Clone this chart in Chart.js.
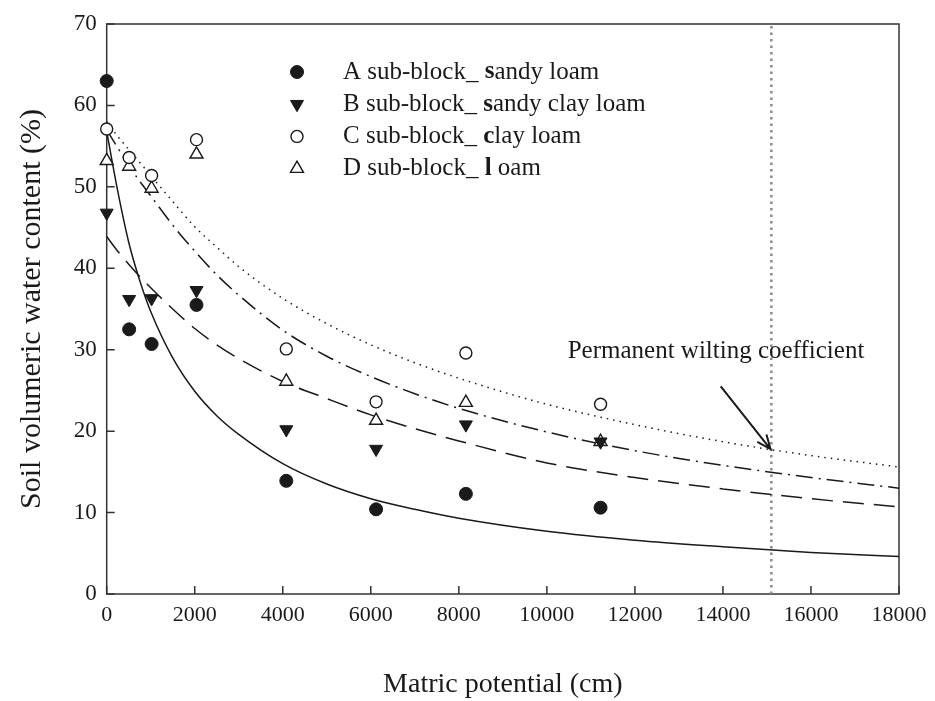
<!DOCTYPE html>
<html>
<head>
<meta charset="utf-8">
<script src="https://cdn.jsdelivr.net/npm/chart.js"></script>
<style>
  html, body { margin: 0; padding: 0; background: #fff; }
  canvas { display: block; }
</style>
</head>
<body>
<canvas id="chart" width="935" height="701"></canvas>
<script>
// measured points: matric potential (cm) and water content (%)
var potential = [0, 510, 1020, 2040, 4080, 6120, 8160, 11220];
var blockA = [63.0, 32.5, 30.7, 35.5, 13.9, 10.4, 12.3, 10.6];
var blockB = [46.8, 36.2, 36.3, 37.3, 20.2, 17.8, 20.8, 18.7];
var blockC = [57.1, 53.6, 51.4, 55.8, 30.1, 23.6, 29.6, 23.3];
var blockD = [53.2, 52.5, 49.8, 54.0, 26.1, 21.3, 23.5, 18.7];

// fitted curves
var fitX = [0, 250, 500, 750, 1000, 1500, 2000, 2500, 3000, 4000, 5000, 6000, 7000, 8000, 10000, 12000, 14000, 16000, 18000];
var fitA = [56.8, 49.5, 43.2, 38.5, 34.7, 29.0, 24.9, 21.9, 19.6, 16.0, 13.5, 11.7, 10.4, 9.3, 7.7, 6.6, 5.8, 5.1, 4.6];
var fitB = [43.9, 42.1, 40.5, 39.0, 37.6, 35.0, 32.6, 30.6, 28.9, 26.1, 24.0, 22.0, 20.3, 18.8, 16.1, 14.3, 12.9, 11.7, 10.7];
var fitC = [58.0, 56.2, 54.6, 53.0, 51.4, 48.2, 45.1, 42.6, 40.2, 36.3, 33.2, 30.6, 28.4, 26.5, 23.3, 20.8, 18.7, 17.0, 15.6];
var fitD = [57.0, 54.8, 52.6, 50.7, 48.9, 45.3, 42.1, 39.2, 36.7, 32.4, 29.2, 26.7, 24.6, 22.8, 19.9, 17.6, 15.8, 14.3, 13.0];

var wiltingPoint = 15100;
var legendNames = ['A sub-block_ sandy loam', 'B sub-block_ sandy clay loam', 'C sub-block_ clay loam', 'D sub-block_ l oam'];
var boldAt = 13; // the odd bold letter after "_ "
var noteText = 'Permanent wilting coefficient';
var notePos = {x: 13843, y: 29.8};
var arrowFrom = {x: 13950, y: 25.5};
var arrowTo = {x: 15080, y: 17.8};

function pts(xs, ys) {
    return xs.map(function (x, i) { return {x: x, y: ys[i]}; });
}

var serif = '"Liberation Serif", "DejaVu Serif", serif';
var ink = '#1a1a1a';

var markerStyles = [
    {pointStyle: 'circle', radius: 6.5, rotation: 0, backgroundColor: ink, borderColor: ink, borderWidth: 1},
    {pointStyle: 'triangle', radius: 7.5, rotation: 180, backgroundColor: ink, borderColor: ink, borderWidth: 1},
    {pointStyle: 'circle', radius: 6, rotation: 0, backgroundColor: '#fff', borderColor: ink, borderWidth: 1.4},
    {pointStyle: 'triangle', radius: 7.5, rotation: 0, backgroundColor: '#fff', borderColor: ink, borderWidth: 1.4}
];

function pointSet(ys, m) {
    return {
        data: pts(potential, ys),
        showLine: false,
        clip: false,
        pointStyle: m.pointStyle,
        pointRadius: m.radius,
        pointRotation: m.rotation,
        pointBackgroundColor: m.backgroundColor,
        pointBorderColor: m.borderColor,
        pointBorderWidth: m.borderWidth,
        order: 0
    };
}

function curveSet(ys, dash) {
    return {
        data: pts(fitX, ys),
        showLine: true,
        borderColor: ink,
        borderWidth: 1.5,
        borderDash: dash,
        pointRadius: 0,
        cubicInterpolationMode: 'monotone',
        order: 2
    };
}

var extras = {
    id: 'extras',
    beforeDatasetsDraw: function (chart) {
        var ctx = chart.ctx;
        var area = chart.chartArea;
        var xs = chart.scales.x, ys = chart.scales.y;
        ctx.save();
        // box round the plot
        ctx.strokeStyle = '#333';
        ctx.lineWidth = 1.5;
        ctx.strokeRect(area.left, area.top, area.right - area.left, area.bottom - area.top);
        // inward ticks
        ctx.beginPath();
        xs.ticks.forEach(function (t, i) {
            var px = xs.getPixelForTick(i);
            ctx.moveTo(px, area.bottom);
            ctx.lineTo(px, area.bottom - 8);
        });
        ys.ticks.forEach(function (t, i) {
            var py = ys.getPixelForTick(i);
            ctx.moveTo(area.left, py);
            ctx.lineTo(area.left + 8, py);
        });
        ctx.stroke();
        ctx.restore();
    },
    afterDraw: function (chart) {
        var ctx = chart.ctx;
        var xs = chart.scales.x, ys = chart.scales.y;
        ctx.save();

        // legend
        ctx.textBaseline = 'middle';
        ctx.textAlign = 'left';
        legendNames.forEach(function (name, i) {
            var m = markerStyles[i];
            var ly = 72 + i * 32.2;
            ctx.fillStyle = m.backgroundColor;
            ctx.strokeStyle = m.borderColor;
            ctx.lineWidth = m.borderWidth;
            Chart.helpers.drawPoint(ctx, {pointStyle: m.pointStyle, radius: m.radius, rotation: m.rotation, borderWidth: m.borderWidth}, 297, ly);
            var tx = 343;
            var parts = [name.slice(0, boldAt), name.charAt(boldAt), name.slice(boldAt + 1)];
            ctx.fillStyle = ink;
            parts.forEach(function (p, k) {
                ctx.font = (k === 1 ? 'bold ' : '') + '25px ' + serif;
                ctx.fillText(p, tx, ly);
                tx += ctx.measureText(p).width;
            });
        });

        // note and arrow
        ctx.font = '25px ' + serif;
        ctx.textAlign = 'center';
        ctx.fillStyle = ink;
        ctx.fillText(noteText, xs.getPixelForValue(notePos.x), ys.getPixelForValue(notePos.y));

        var x1 = xs.getPixelForValue(arrowFrom.x), y1 = ys.getPixelForValue(arrowFrom.y);
        var x2 = xs.getPixelForValue(arrowTo.x), y2 = ys.getPixelForValue(arrowTo.y);
        var ang = Math.atan2(y2 - y1, x2 - x1);
        ctx.strokeStyle = ink;
        ctx.lineWidth = 2;
        ctx.beginPath();
        ctx.moveTo(x1, y1);
        ctx.lineTo(x2, y2);
        ctx.moveTo(x2 - 15 * Math.cos(ang - 0.4), y2 - 15 * Math.sin(ang - 0.4));
        ctx.lineTo(x2, y2);
        ctx.lineTo(x2 - 15 * Math.cos(ang + 0.4), y2 - 15 * Math.sin(ang + 0.4));
        ctx.stroke();

        ctx.restore();
    }
};

var chart = new Chart(document.getElementById('chart'), {
    type: 'scatter',
    data: {
        datasets: [
            pointSet(blockA, markerStyles[0]),
            pointSet(blockB, markerStyles[1]),
            pointSet(blockC, markerStyles[2]),
            pointSet(blockD, markerStyles[3]),
            curveSet(fitA, []),
            curveSet(fitB, [21, 10]),
            curveSet(fitC, [1.5, 5]),
            curveSet(fitD, [17, 6, 2, 6]),
            {
                data: [{x: wiltingPoint, y: 0}, {x: wiltingPoint, y: 70}],
                showLine: true,
                borderColor: '#8a8a8a',
                borderWidth: 2.5,
                borderDash: [2.5, 4],
                pointRadius: 0,
                order: 3
            }
        ]
    },
    options: {
        responsive: false,
        animation: false,
        layout: {padding: {top: 24, right: 36, left: 0, bottom: 0}},
        plugins: {
            legend: {display: false},
            tooltip: {enabled: false}
        },
        scales: {
            x: {
                type: 'linear',
                min: 0,
                max: 18000,
                afterFit: function (s) { s.height = 107; },
                grid: {display: false, drawTicks: false},
                border: {display: false},
                ticks: {
                    stepSize: 2000,
                    padding: 8,
                    color: ink,
                    font: {family: serif, size: 22},
                    maxRotation: 0,
                    callback: function (v) { return String(v); }
                },
                title: {
                    display: true,
                    text: 'Matric potential (cm)',
                    color: ink,
                    font: {family: serif, size: 28},
                    padding: {top: 0, bottom: 0}
                }
            },
            y: {
                min: 0,
                max: 70,
                afterFit: function (s) { s.width = 106.7; },
                grid: {display: false, drawTicks: false},
                border: {display: false},
                ticks: {
                    stepSize: 10,
                    padding: 10,
                    color: ink,
                    font: {family: serif, size: 23}
                },
                title: {
                    display: true,
                    text: 'Soil volumeric water content (%)',
                    color: ink,
                    font: {family: serif, size: 30},
                    padding: {top: 14, bottom: 0}
                }
            }
        }
    },
    plugins: [extras]
});
</script>
</body>
</html>
